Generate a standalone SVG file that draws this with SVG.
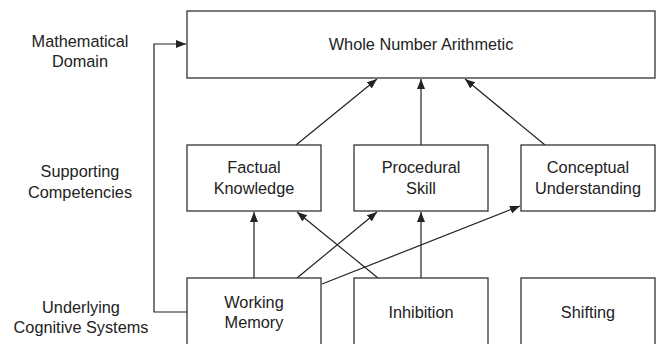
<svg xmlns="http://www.w3.org/2000/svg" width="666" height="344" viewBox="0 0 666 344">
<style>
.box{fill:#fff;stroke:#333;stroke-width:1.3}
.t{font-family:"Liberation Sans",Arial,sans-serif;font-size:16.3px;fill:#222;text-anchor:middle}
.c{fill:none;stroke:#222;stroke-width:1.2}
</style>
<defs>
<marker id="ah" viewBox="0 0 10 8" refX="10" refY="4" markerWidth="10" markerHeight="8" markerUnits="userSpaceOnUse" orient="auto">
<path d="M0,0 L10,4 L0,8 Z" fill="#222"/>
</marker>
</defs>
<rect width="666" height="344" fill="#fff"/>
<g id="labels">
<text class="t" x="80" y="47">Mathematical</text>
<text class="t" x="80" y="67">Domain</text>
<text class="t" x="80" y="177">Supporting</text>
<text class="t" x="80" y="198">Competencies</text>
<text class="t" x="81" y="313">Underlying</text>
<text class="t" x="81" y="333">Cognitive Systems</text>
</g>
<g id="connectors">
<path class="c" d="M187,312 H154 V44 H186" marker-end="url(#ah)"/>
<path class="c" d="M296,145 L377,79" marker-end="url(#ah)"/>
<path class="c" d="M421,145 L421,79" marker-end="url(#ah)"/>
<path class="c" d="M545,145 L465,79" marker-end="url(#ah)"/>
<path class="c" d="M254,278 L254,212" marker-end="url(#ah)"/>
<path class="c" d="M297,278 L377,212" marker-end="url(#ah)"/>
<path class="c" d="M322,284 L520,206" marker-end="url(#ah)"/>
<path class="c" d="M378,278 L297,212" marker-end="url(#ah)"/>
<path class="c" d="M421,278 L421,212" marker-end="url(#ah)"/>
</g>
<g id="whole-number-arithmetic">
<rect class="box" x="187" y="11" width="468" height="67"/>
<text class="t" x="421" y="50">Whole Number Arithmetic</text>
</g>
<g id="factual-knowledge">
<rect class="box" x="187" y="145" width="134" height="66"/>
<text class="t" x="254" y="173">Factual</text>
<text class="t" x="254" y="194">Knowledge</text>
</g>
<g id="procedural-skill">
<rect class="box" x="354" y="145" width="134" height="66"/>
<text class="t" x="421" y="173">Procedural</text>
<text class="t" x="421" y="194">Skill</text>
</g>
<g id="conceptual-understanding">
<rect class="box" x="521" y="145" width="134" height="66"/>
<text class="t" x="588" y="173">Conceptual</text>
<text class="t" x="588" y="194">Understanding</text>
</g>
<g id="working-memory">
<rect class="box" x="187" y="278" width="134" height="80"/>
<text class="t" x="254" y="308">Working</text>
<text class="t" x="254" y="328">Memory</text>
</g>
<g id="inhibition">
<rect class="box" x="354" y="278" width="134" height="80"/>
<text class="t" x="421" y="318">Inhibition</text>
</g>
<g id="shifting">
<rect class="box" x="521" y="278" width="134" height="80"/>
<text class="t" x="588" y="318">Shifting</text>
</g>
</svg>
